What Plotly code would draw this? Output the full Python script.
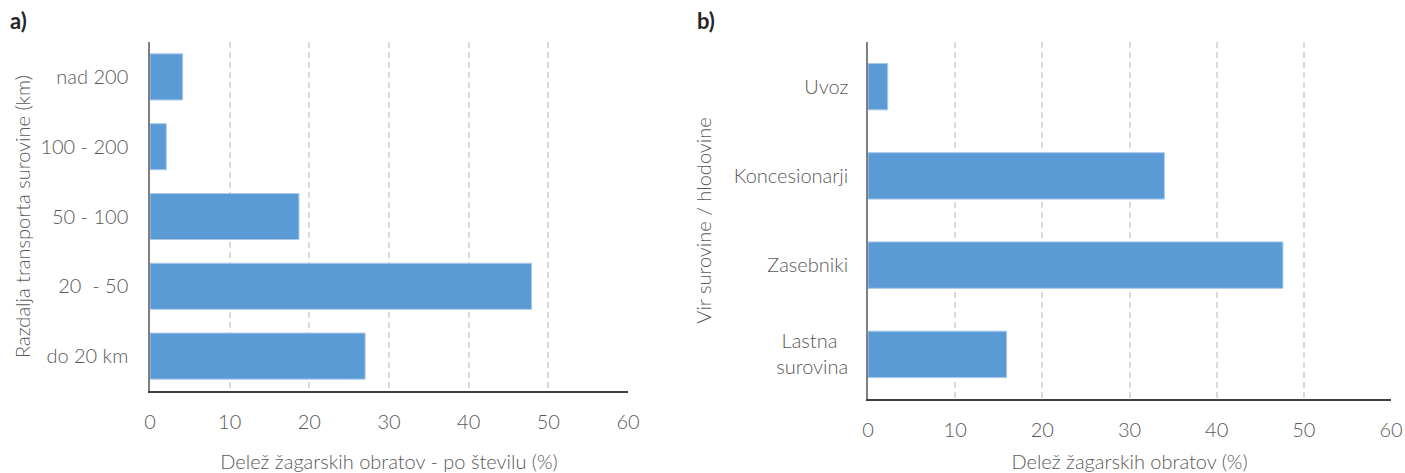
import plotly.graph_objects as go

# Panel a: transport distance of raw material (bottom to top)
distance_cats = ["do 20 km", "20\u00a0 - 50", "50 - 100", "100 - 200", "nad 200"]
distance_share = [27.0, 47.9, 18.7, 2.05, 4.1]

# Panel b: source of logs (bottom to top)
source_cats = ["Lastna\u00a0\u00a0<br>surovina", "Zasebniki", "Koncesionarji", "Uvoz"]
source_share = [15.9, 47.6, 34.0, 2.26]

x_ticks = [0, 10, 20, 30, 40, 50, 60]

BAR = "#5B9BD5"
TXT = "#595959"
FONT = "Lato"
FS = 20

fig = go.Figure()
fig.add_trace(go.Bar(y=distance_cats, x=distance_share, orientation="h", width=0.66,
                     marker=dict(color=BAR, line=dict(color="#A9C8EA", width=1)),
                     xaxis="x", yaxis="y", showlegend=False))
fig.add_trace(go.Bar(y=source_cats, x=source_share, orientation="h", width=0.52,
                     marker=dict(color=BAR, line=dict(color="#A9C8EA", width=1)),
                     xaxis="x2", yaxis="y2", showlegend=False))

W, H = 1405, 473
tfont = dict(family=FONT, size=FS, color=TXT, weight=300)
xa = dict(range=[0, 60], tickvals=x_ticks, showgrid=True, gridcolor="#D9D9D9",
          griddash="6px,4px", gridwidth=1.5, zeroline=False, showline=True,
          linecolor="#404040", linewidth=1.5, ticks="", ticklabelstandoff=12,
          tickfont=tfont, automargin=False, fixedrange=True)
ya = dict(showgrid=False, zeroline=False, showline=True, linecolor="#7F7F7F",
          linewidth=1.5, ticks="", tickfont=tfont, automargin=False,
          fixedrange=True, type="category")

fig.update_layout(
    width=W, height=H,
    margin=dict(l=0, r=0, t=0, b=0),
    paper_bgcolor="white", plot_bgcolor="white",
    xaxis=dict(xa, domain=[150 / W, 628 / W], anchor="y",
               title=dict(text="Delež žagarskih obratov - po številu (%)",
                          font=tfont, standoff=23)),
    yaxis=dict(ya, domain=[1 - 391 / H, 1 - 42 / H], anchor="x",
               ticklabelstandoff=16,
               title=dict(text="Razdalja transporta surovine (km)",
                          font=tfont, standoff=4)),
    xaxis2=dict(xa, domain=[868 / W, 1391 / W], anchor="y2",
                title=dict(text="Delež žagarskih obratov (%)",
                           font=tfont, standoff=16)),
    yaxis2=dict(ya, domain=[1 - 399 / H, 1 - 42 / H], anchor="x2",
                ticklabelstandoff=14,
                title=dict(text="Vir surovine / hlodovine",
                           font=tfont, standoff=17)),
    annotations=[
        dict(text="<b>a)</b>", x=8 / W, y=1 - 20 / H, xref="paper", yref="paper",
             xanchor="left", yanchor="middle", showarrow=False,
             font=dict(family=FONT, size=22, color="#262626")),
        dict(text="<b>b)</b>", x=695 / W, y=1 - 20 / H, xref="paper", yref="paper",
             xanchor="left", yanchor="middle", showarrow=False,
             font=dict(family=FONT, size=22, color="#262626")),
    ],
)

fig.write_html("out.html")
